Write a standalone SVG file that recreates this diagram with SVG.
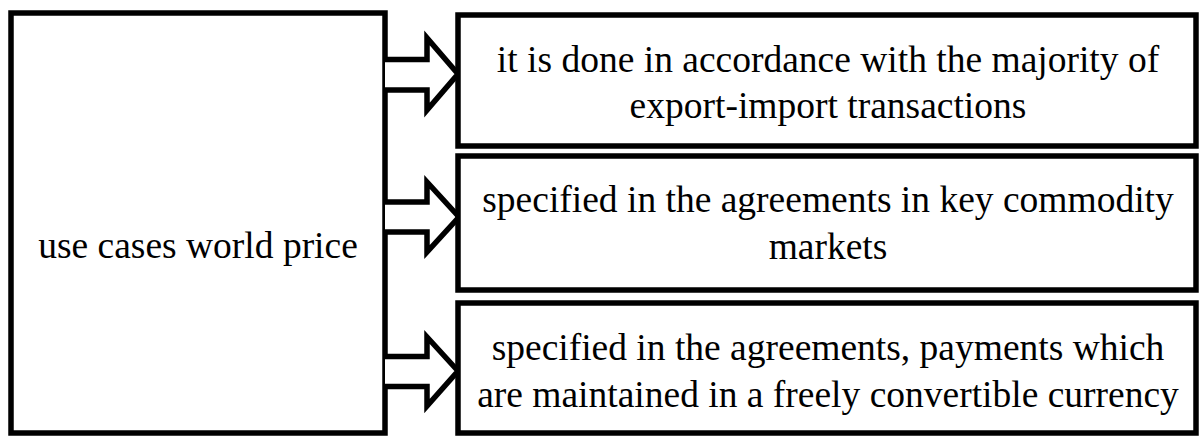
<svg xmlns="http://www.w3.org/2000/svg" width="1200" height="438" viewBox="0 0 1200 438">
<style>
.box{fill:#fff;stroke:#000;stroke-width:5.5}
.arr{fill:#fff;stroke:#000;stroke-width:5.5;stroke-linejoin:miter}
.t{font-family:'Liberation Serif','Times New Roman','DejaVu Serif',serif;font-size:37.5px;fill:#000;text-anchor:middle}
</style>
<rect width="1200" height="438" fill="#fff"/>
<g id="source">
<rect class="box" x="11" y="13" width="374" height="420"/>
<text class="t" x="198" y="258">use cases world price</text>
</g>
<g id="connectors">
<path class="arr" d="M385 59.5 H427 V38 L458 74 L427 110 V90 H385"/>
<path class="arr" d="M385 202 H427 V182 L459 217 L427 252 V232 H385"/>
<path class="arr" d="M385 356.5 H427 V337 L458 371 L427 406 V386.5 H385"/>
</g>
<g id="node1">
<rect class="box" x="458" y="15" width="738" height="131"/>
<text class="t" x="828" y="72">it is done in accordance with the majority of</text>
<text class="t" x="828" y="118">export-import transactions</text>
</g>
<g id="node2">
<rect class="box" x="458" y="156" width="738" height="134"/>
<text class="t" x="828" y="212">specified in the agreements in key commodity</text>
<text class="t" x="828" y="259">markets</text>
</g>
<g id="node3">
<rect class="box" x="458" y="303" width="738" height="130"/>
<text class="t" x="828" y="360">specified in the agreements, payments which</text>
<text class="t" x="828" y="407">are maintained in a freely convertible currency</text>
</g>
</svg>
